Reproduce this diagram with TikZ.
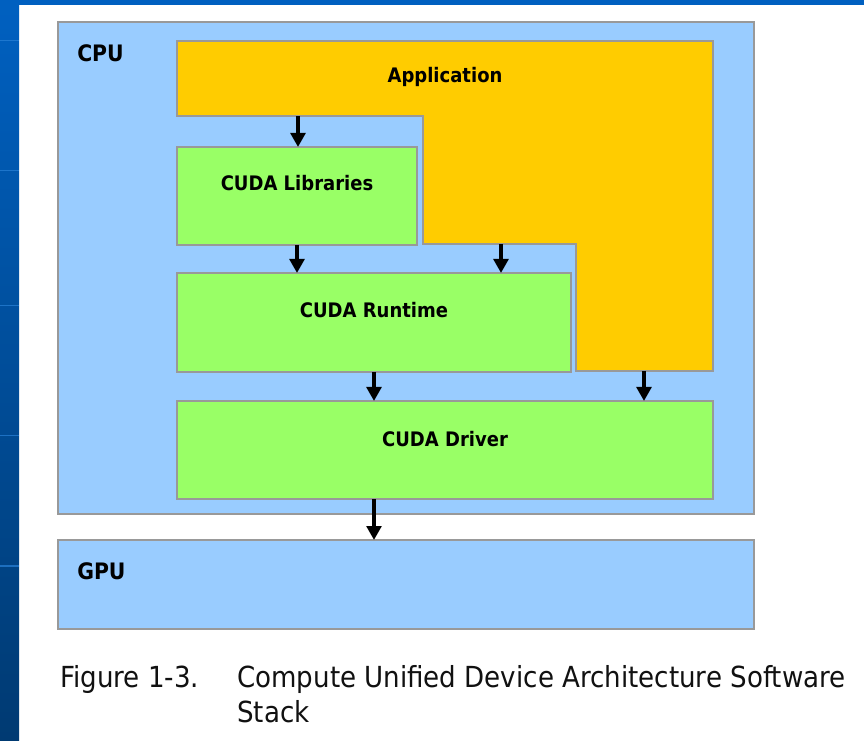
\documentclass[tikz,border=0pt]{standalone}
\usepackage{fontspec}
\usetikzlibrary{arrows.meta}
\newfontfamily\lblfont{DejaVu Sans}[FakeStretch=0.9]
\definecolor{slideblue}{HTML}{0060C0}
\definecolor{slidedark}{HTML}{003A72}
\definecolor{slideline}{HTML}{2A82D8}
\definecolor{hostblue}{HTML}{99CCFF}
\definecolor{appyellow}{HTML}{FFCC00}
\definecolor{cudagreen}{HTML}{99FF66}
\definecolor{edgegray}{HTML}{999999}
\definecolor{captext}{HTML}{111111}
\tikzset{
  layerbox/.style={draw=edgegray, line width=1.5pt, outer sep=0pt, inner sep=0pt},
  hostbox/.style={layerbox, fill=hostblue},
  greenbox/.style={layerbox, fill=cudagreen},
  lbl/.style={font=\lblfont\bfseries\fontsize{15pt}{18pt}\selectfont, anchor=base, inner sep=0pt, text=black},
  biglbl/.style={font=\lblfont\bfseries\fontsize{17pt}{20pt}\selectfont, anchor=base west, inner sep=0pt, text=black},
  captiontext/.style={font=\lblfont\fontsize{21.75pt}{26pt}\selectfont, anchor=base west, inner sep=0pt, text=captext},
  arr/.style={line width=3.4pt, -{Triangle[width=11pt,length=10.5pt]}, black}
}
\begin{document}
\begin{tikzpicture}[x=0.75pt, y=-0.75pt]
\useasboundingbox (0,0) rectangle (864,741);
% slide background
\fill[white] (0,0) rectangle (864,741);
\fill[slideblue] (0,0) rectangle (864,5);
\shade[top color=slideblue, bottom color=slidedark] (0,5) rectangle (19,741);
\foreach \yy in {40,170,305,435,565} {\fill[slideline, opacity=0.7] (0,\yy) rectangle (19,\yy+1.5);}
% host boxes
\node[hostbox, minimum width=696*0.75pt, minimum height=492*0.75pt] (cpu) at (406,268) {};
\node[hostbox, minimum width=696*0.75pt, minimum height=89*0.75pt] (gpu) at (406,584.5) {};
% application (L-shaped)
\draw[fill=appyellow, draw=edgegray, line width=1.5pt]
  (177,41) -- (713,41) -- (713,371) -- (576,371) -- (576,244) -- (423,244) -- (423,116) -- (177,116) -- cycle;
% CUDA layers
\node[greenbox, minimum width=240*0.75pt, minimum height=98*0.75pt] (lib) at (297,196) {};
\node[greenbox, minimum width=394*0.75pt, minimum height=99*0.75pt] (rt) at (374,322.5) {};
\node[greenbox, minimum width=536*0.75pt, minimum height=98*0.75pt] (drv) at (445,450) {};
% labels
\node[biglbl] (cpulbl) at (77,62) {CPU};
\node[biglbl] (gpulbl) at (77,579) {GPU};
\node[lbl] (applbl) at (445,83) {Application};
\node[lbl] (liblbl) at (297,191) {CUDA Libraries};
\node[lbl] (rtlbl) at (374,318) {CUDA Runtime};
\node[lbl] (drvlbl) at (445,446) {CUDA Driver};
% connector anchors on the application outline
\coordinate (appA) at (298,116);
\coordinate (appB) at (501,244);
\coordinate (appC) at (644,371);
% arrows
\draw[arr] (appA) -- (appA |- lib.north);
\draw[arr] (lib.south) -- (lib.south |- rt.north);
\draw[arr] (appB) -- (appB |- rt.north);
\draw[arr] (rt.south) -- (rt.south |- drv.north);
\draw[arr] (appC) -- (appC |- drv.north);
\draw[arr] (drv.south -| rt.south) -- (gpu.north -| rt.south);
% caption
\node[captiontext] (capnum) at (60,687) {Figure 1-3.};
\node[captiontext] (capl1) at (237,687) {Compute Unified Device Architecture Software};
\node[captiontext] (capl2) at (237,722) {Stack};
\end{tikzpicture}
\end{document}
